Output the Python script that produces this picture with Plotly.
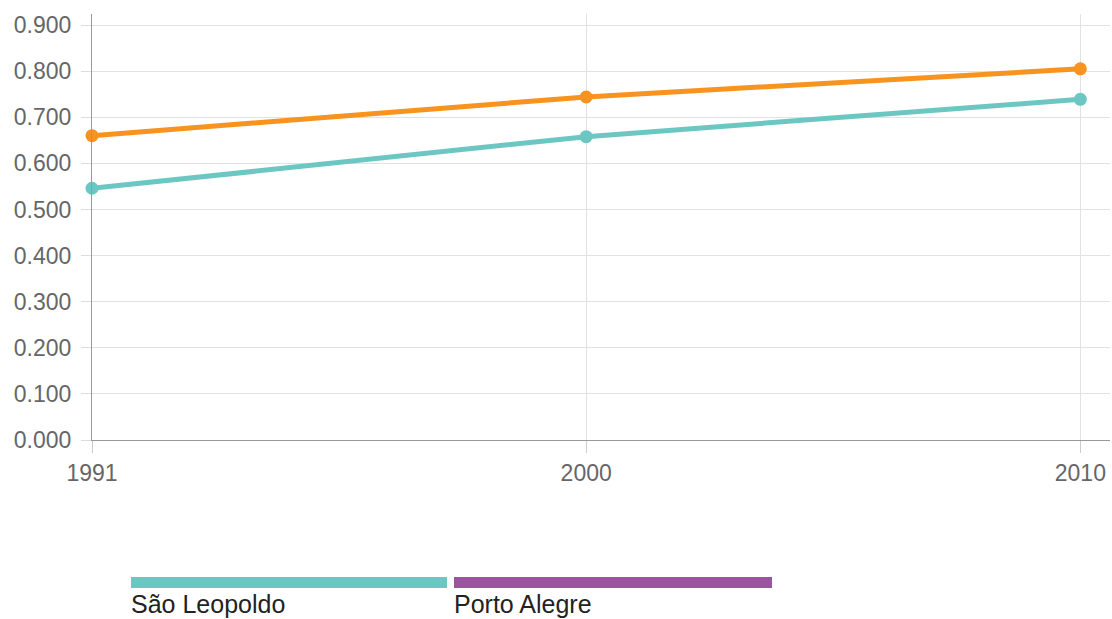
import plotly.graph_objects as go

years = ["1991", "2000", "2010"]
sao_leopoldo = [0.546, 0.658, 0.739]
porto_alegre = [0.660, 0.744, 0.805]
legend_names = ["São Leopoldo", "Porto Alegre"]
legend_colors = ["#6cc7c3", "#9c54a0"]
line_colors = ["#6cc7c3", "#f7931e"]
y_ticks = [0.0, 0.1, 0.2, 0.3, 0.4, 0.5, 0.6, 0.7, 0.8, 0.9]

W, H = 1112, 619
L, R, T, B = 92, 2, 14, 179

fig = go.Figure()
for name, vals, col in zip(legend_names, [sao_leopoldo, porto_alegre], line_colors):
    fig.add_trace(go.Scatter(x=years, y=vals, name=name, mode="lines+markers",
                             line=dict(color=col, width=5),
                             marker=dict(color=col, size=13),
                             showlegend=False, cliponaxis=False))

def px_to_paper_x(px):
    return (px - L) / (W - L - R)

def py_to_paper_y(py):
    return (H - B - py) / (H - T - B)

legend_boxes = [(131, 447), (454, 772)]
for (x0, x1), name, col in zip(legend_boxes, legend_names, legend_colors):
    fig.add_shape(type="rect", xref="paper", yref="paper",
                  x0=px_to_paper_x(x0), x1=px_to_paper_x(x1),
                  y0=py_to_paper_y(588), y1=py_to_paper_y(577),
                  fillcolor=col, line=dict(width=0))
    fig.add_annotation(xref="paper", yref="paper", x=px_to_paper_x(x0 - 2),
                       y=py_to_paper_y(604), text=name, showarrow=False,
                       xanchor="left", yanchor="middle",
                       font=dict(family="Liberation Sans, Arial", size=25, color="#222"))

fig.update_layout(
    width=W, height=H,
    margin=dict(l=L, r=R, t=T, b=B),
    plot_bgcolor="white", paper_bgcolor="white",
    font=dict(family="Liberation Sans, Arial", size=23, color="#666"),
    xaxis=dict(type="category", range=[0, 2.06],
               showgrid=True, gridcolor="#e2e2e2", gridwidth=1,
               showline=True, linecolor="#999", linewidth=1,
               ticks="outside", ticklen=12, tickcolor="#ccc", zeroline=False,
               tickfont=dict(size=23, color="#666")),
    yaxis=dict(range=[0, 0.924], tickvals=y_ticks, tickformat=".3f",
               showgrid=True, gridcolor="#e2e2e2", gridwidth=1,
               showline=True, linecolor="#999", linewidth=1,
               ticks="outside", ticklen=10, tickcolor="#ddd", zeroline=False,
               ticklabelstandoff=5,
               tickfont=dict(size=23, color="#666")),
)

fig.write_html("out.html", config={"displayModeBar": False},
               post_script="document.body.style.margin='0px';")
